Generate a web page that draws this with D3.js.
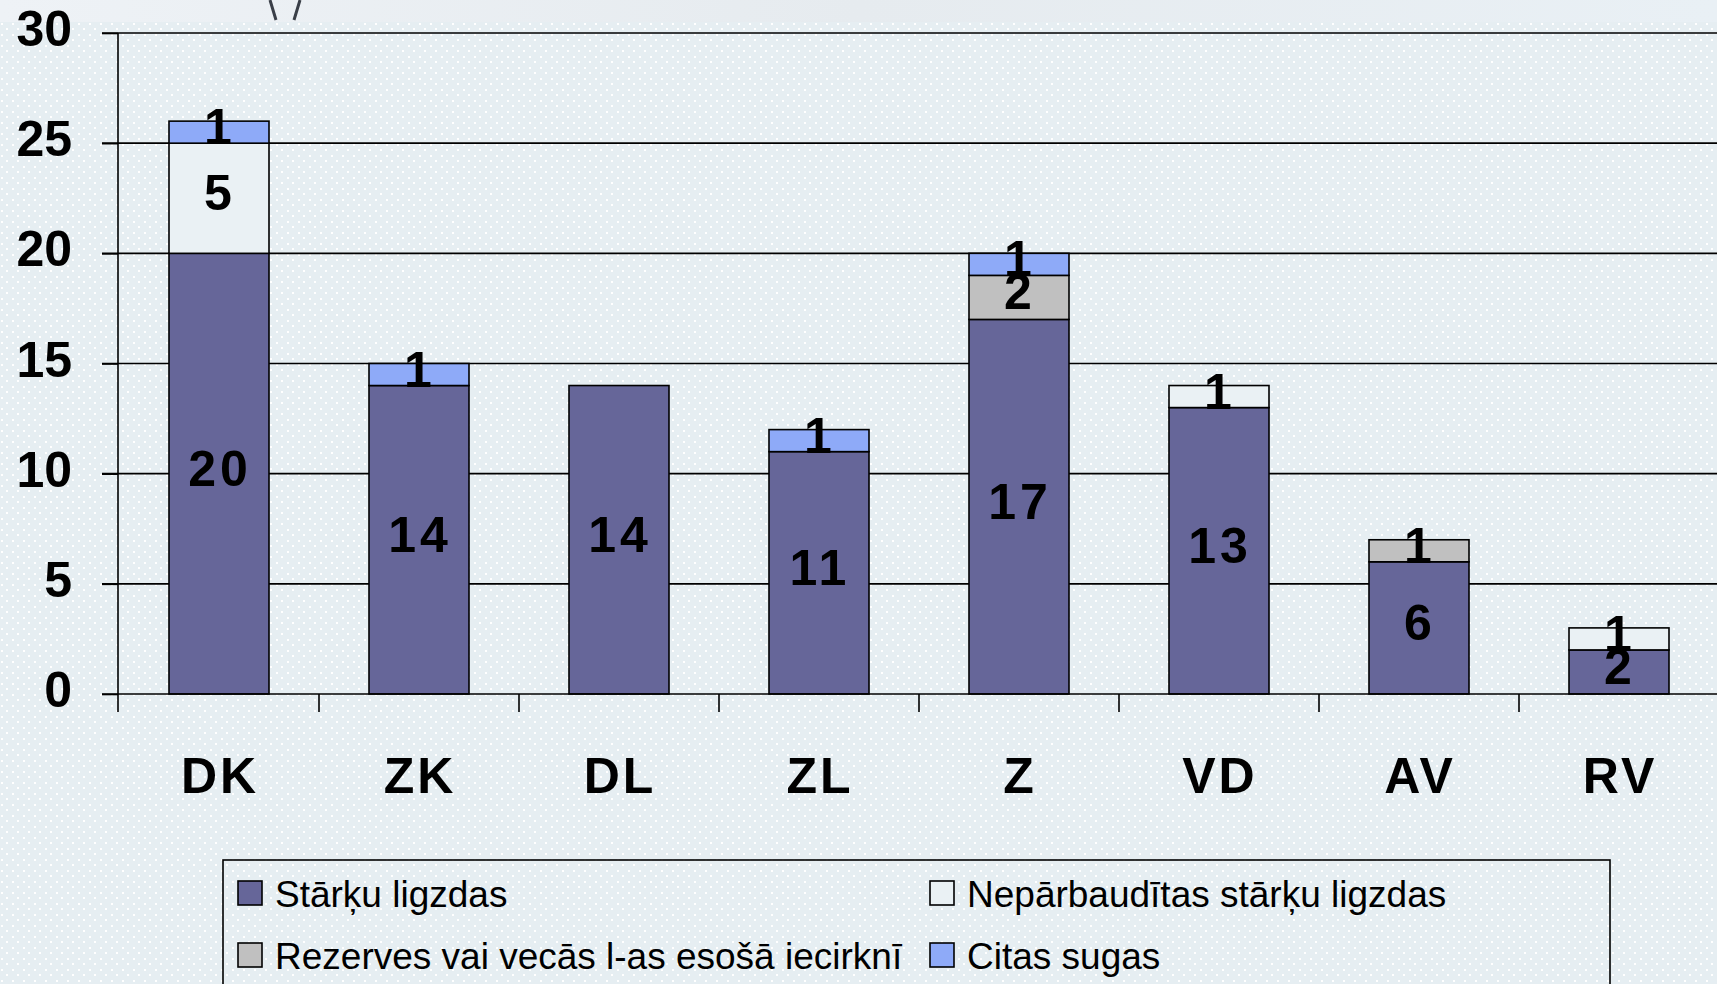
<!DOCTYPE html>
<html lang="lv">
	<head>
		<meta charset="UTF-8" />
		<title>Stārķu ligzdas</title>
		<script src="https://d3js.org/d3.v7.min.js"></script>
		<style>
			body { margin: 0; background: #e8f0f4; }
			svg { display: block; }
		</style>
	</head>
	<body>
		<script>
			var categories = ["DK", "ZK", "DL", "ZL", "Z", "VD", "AV", "RV"];
			var seriesNames = [
				"Stārķu ligzdas",
				"Nepārbaudītas stārķu ligzdas",
				"Rezerves vai vecās l-as esošā iecirknī",
				"Citas sugas"
			];
			var starku = [20, 14, 14, 11, 17, 13, 6, 2];
			var neparbauditas = [5, 0, 0, 0, 0, 1, 0, 1];
			var rezerves = [0, 0, 0, 0, 2, 0, 1, 0];
			var citas = [1, 1, 0, 1, 1, 0, 0, 0];
			var yTicks = [0, 5, 10, 15, 20, 25, 30];

			var colors = ["#666699", "#eaf1f4", "#c0c0c0", "#8eaaf8"];
			// stack order bottom -> top (as drawn)
			var stackOrder = [0, 2, 1, 3];

			var w = 1717;
			var h = 984;

			var svg = d3.select("body")
				.append("svg")
				.attr("width", w)
				.attr("height", h);

			// dotted background
			var defs = svg.append("defs");
			var pat = defs.append("pattern")
				.attr("id", "dots")
				.attr("width", 11)
				.attr("height", 11)
				.attr("patternUnits", "userSpaceOnUse");
			pat.append("rect").attr("width", 11).attr("height", 11).attr("fill", "#e6eef2");
			pat.append("rect").attr("x", 1).attr("y", 1).attr("width", 2).attr("height", 2).attr("fill", "#ffffff");
			pat.append("rect").attr("x", 6).attr("y", 6).attr("width", 2).attr("height", 2).attr("fill", "#ffffff");

			svg.append("rect").attr("width", w).attr("height", h).attr("fill", "url(#dots)");

			// strip of the photo at the very top
			var grad = defs.append("linearGradient").attr("id", "topstrip");
			grad.append("stop").attr("offset", "0%").attr("stop-color", "#eef2f6");
			grad.append("stop").attr("offset", "50%").attr("stop-color", "#e6ebef");
			grad.append("stop").attr("offset", "100%").attr("stop-color", "#e9f0f5");
			svg.append("rect").attr("width", w).attr("height", 22).attr("fill", "url(#topstrip)");
			svg.append("path")
				.attr("d", "M270,0 L276,20 M300,0 L294,20")
				.attr("stroke", "#3a3f48")
				.attr("stroke-width", 3)
				.attr("fill", "none");

			var x = d3.scaleBand()
				.domain(categories)
				.range([119, 1719])
				.paddingInner(0.5)
				.paddingOuter(0.25);

			var y = d3.scaleLinear()
				.domain([0, 30])
				.range([694, 33]);

			// gridlines
			svg.selectAll("line.grid")
				.data(yTicks.slice(1))
				.enter()
				.append("line")
				.attr("class", "grid")
				.attr("x1", 102)
				.attr("x2", w)
				.attr("y1", function (d) { return y(d); })
				.attr("y2", function (d) { return y(d); })
				.attr("stroke", "#000")
				.attr("stroke-width", 1.6);

			// stacked series
			var rows = categories.map(function (c, i) {
				return {
					cat: c,
					vals: [starku[i], neparbauditas[i], rezerves[i], citas[i]]
				};
			});

			var segments = [];
			rows.forEach(function (r) {
				var base = 0;
				stackOrder.forEach(function (s) {
					var v = r.vals[s];
					if (v > 0) {
						segments.push({ cat: r.cat, s: s, y0: base, y1: base + v, v: v });
						base += v;
					}
				});
			});

			svg.selectAll("rect.bar")
				.data(segments)
				.enter()
				.append("rect")
				.attr("class", "bar")
				.attr("x", function (d) { return x(d.cat); })
				.attr("width", x.bandwidth())
				.attr("y", function (d) { return y(d.y1); })
				.attr("height", function (d) { return y(d.y0) - y(d.y1); })
				.attr("fill", function (d) { return colors[d.s]; })
				.attr("stroke", "#000")
				.attr("stroke-width", 1.6);

			// axes
			var yAxis = d3.axisLeft(y)
				.tickValues(yTicks)
				.tickSize(16)
				.tickSizeOuter(0)
				.tickPadding(30);

			var gy = svg.append("g")
				.attr("transform", "translate(118,0)")
				.call(yAxis);
			gy.select(".domain").remove();
			gy.selectAll("line").attr("stroke", "#000").attr("stroke-width", 1.6);
			gy.selectAll("text")
				.attr("dy", "0.25em")
				.attr("font-family", "'Liberation Sans', Arial, sans-serif")
				.attr("font-weight", "bold")
				.attr("font-size", "50px")
				.attr("fill", "#000");

			svg.append("line")
				.attr("x1", 118).attr("x2", 118)
				.attr("y1", 33).attr("y2", 712)
				.attr("stroke", "#000").attr("stroke-width", 1.6);
			svg.append("line")
				.attr("x1", 102).attr("x2", w)
				.attr("y1", y(0)).attr("y2", y(0))
				.attr("stroke", "#000").attr("stroke-width", 1.6);

			// category boundary ticks
			var step = x.step();
			svg.selectAll("line.xtick")
				.data(categories)
				.enter()
				.append("line")
				.attr("class", "xtick")
				.attr("x1", function (d) { return x(d) + x.bandwidth() / 2 + step / 2; })
				.attr("x2", function (d) { return x(d) + x.bandwidth() / 2 + step / 2; })
				.attr("y1", y(0))
				.attr("y2", 712)
				.attr("stroke", "#000")
				.attr("stroke-width", 1.6);

			svg.selectAll("text.cat")
				.data(categories)
				.enter()
				.append("text")
				.attr("class", "cat")
				.text(function (d) { return d; })
				.attr("x", function (d) { return x(d) + x.bandwidth() / 2 + 1; })
				.attr("y", 793)
				.attr("text-anchor", "middle")
				.attr("font-family", "'Liberation Sans', Arial, sans-serif")
				.attr("font-weight", "bold")
				.attr("font-size", "50px")
				.attr("letter-spacing", "3px")
				.attr("fill", "#000");

			// value labels
			svg.selectAll("text.val")
				.data(segments)
				.enter()
				.append("text")
				.attr("class", "val")
				.text(function (d) { return d.v; })
				.attr("x", function (d) { return x(d.cat) + x.bandwidth() / 2 + 1; })
				.attr("y", function (d) { return (y(d.y0) + y(d.y1)) / 2 - 6; })
				.attr("dy", "0.36em")
				.attr("text-anchor", "middle")
				.attr("font-family", "'Liberation Sans', Arial, sans-serif")
				.attr("font-weight", "bold")
				.attr("font-size", "50px")
				.attr("letter-spacing", "4px")
				.attr("fill", "#000");

			// legend
			var legend = svg.append("g");
			legend.append("rect")
				.attr("x", 223)
				.attr("y", 860)
				.attr("width", 1387)
				.attr("height", 140)
				.attr("fill", "none")
				.attr("stroke", "#000")
				.attr("stroke-width", 1.6);

			var legendPos = [
				{ x: 238, y: 881 },
				{ x: 930, y: 881 },
				{ x: 238, y: 943 },
				{ x: 930, y: 943 }
			];
			var legendOrder = [0, 1, 2, 3];

			var items = legend.selectAll("g.item")
				.data(legendOrder)
				.enter()
				.append("g")
				.attr("class", "item")
				.attr("transform", function (d, i) {
					return "translate(" + legendPos[i].x + "," + legendPos[i].y + ")";
				});
			items.append("rect")
				.attr("width", 24)
				.attr("height", 24)
				.attr("fill", function (d) { return colors[d]; })
				.attr("stroke", "#000")
				.attr("stroke-width", 1.6);
			items.append("text")
				.text(function (d) { return seriesNames[d]; })
				.attr("x", 37)
				.attr("y", 26)
				.attr("font-family", "'Liberation Sans', Arial, sans-serif")
				.attr("font-size", "37px")
				.attr("fill", "#000");
		</script>
	</body>
</html>
